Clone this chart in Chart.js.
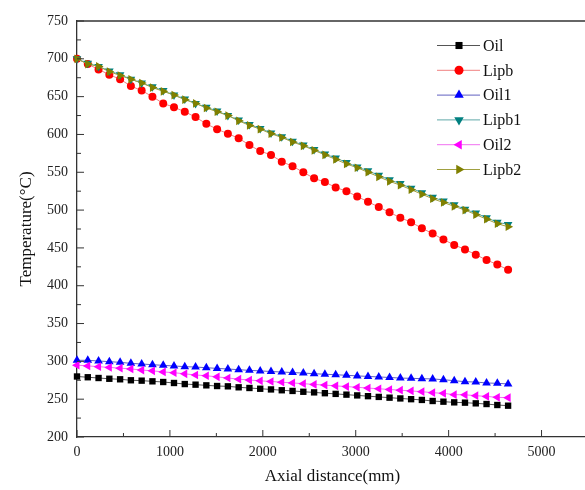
<!DOCTYPE html>
<html>
<head>
<meta charset="utf-8">
<script src="https://cdn.jsdelivr.net/npm/chart.js@4.4.1/dist/chart.umd.min.js"></script>
<style>
html, body { margin: 0; padding: 0; background: #fff; overflow: hidden; }
#wrap { width: 585px; height: 490px; overflow: hidden; }
</style>
</head>
<body>
<div id="wrap"><canvas id="myChart" width="600" height="490"></canvas></div>
<script>
// axial positions (mm)
var distance = [0, 116, 232, 348, 464, 580, 696, 812, 928, 1044, 1160, 1276, 1392, 1508, 1624, 1740, 1856, 1972, 2088, 2204,
  2320, 2436, 2552, 2668, 2784, 2900, 3016, 3132, 3248, 3364, 3480, 3596, 3712, 3828, 3944, 4060, 4176, 4292, 4408, 4524, 4640];

// temperatures (C)
var oil = [280, 279, 278, 277, 276.3, 275, 274.5, 273.6, 272.7, 271.4, 270, 269.2, 268.3, 267.4, 267, 265.7, 264.8, 263.8, 262.9, 261.8,
  260.9, 259.8, 259, 257.9, 257, 256, 255, 254, 253, 252, 251, 250, 249, 247.6, 246.7, 245.8, 245.4, 244.5, 243.6, 242.3, 241.4];
var lipb = [700, 693, 686, 679, 673, 664, 658, 650, 641, 636, 630, 623, 614, 607, 601, 595, 586, 578, 573, 564,
  558, 550, 542, 537, 530, 525, 518, 511, 504, 497, 490, 484, 476, 469, 461, 454, 448, 441, 434, 428, 421];
var oil1 = [301.4, 301.4, 300.5, 299.6, 298.7, 297.4, 296.5, 295.6, 294.7, 293.9, 293, 292.5, 291.6, 290.7, 289.9, 289, 288.1, 287.4, 286.6, 285.9,
  285.2, 284.5, 283.7, 283, 282.3, 281.6, 280.8, 280.1, 279.4, 278.7, 277.9, 277.6, 277.1, 276.8, 275.7, 274.5, 273.1, 272.7, 271.4, 271, 270.1];
var lipb1 = [700, 694, 690, 684, 679, 673, 668, 663, 658, 652, 647, 641, 636, 631, 625, 619, 613, 608, 602, 597,
  591, 586, 580, 574, 569, 563, 557, 552, 546, 540, 535, 529, 523, 517, 512, 507, 501, 496, 490, 484, 481];
var oil2 = [295, 294, 293, 292, 291, 290, 288.5, 287.5, 286, 285, 283.5, 282, 281, 279.5, 278, 276.5, 275.3, 274.3, 273.4, 272.4,
  271.5, 270.5, 269.5, 268.6, 267.6, 266.7, 265.7, 264.7, 263.8, 262.8, 261.9, 260.9, 259.9, 258.6, 257.7, 256, 255.8, 254.6, 253.7, 252.4, 252];
var lipb2 = [700, 693, 690, 683, 678, 673, 668, 662, 657, 652, 646, 641, 635, 630, 625, 618, 612, 607, 601, 596,
  590, 585, 579, 573, 567, 561, 556, 550, 544, 538, 533, 527, 521, 515, 510, 505, 500, 494, 488, 482, 478];

var seriesNames = ['Oil', 'Lipb', 'Oil1', 'Lipb1', 'Oil2', 'Lipb2'];
var seriesValues = [oil, lipb, oil1, lipb1, oil2, lipb2];
var colors = ['#000000', '#ff0000', '#0000ff', '#008080', '#ff00ff', '#808000'];
var lineColors = ['#555555', '#f08080', '#6060c0', '#60a8a8', '#f070f0', '#a0a040'];
var markers = ['rect', 'circle', 'triangle', 'triangle', 'triangle', 'triangle'];
var markerRot = [0, 0, 0, 180, 270, 90];
var markerSize = [4.5, 4, 5, 5, 5, 5];

var axisColor = '#333333';
var serif = '"Liberation Serif", "Times New Roman", serif';

function toPoints(vals){
  var pts = [];
  for (var i = 0; i < vals.length; i++){
    pts.push({x: distance[i], y: vals[i]});
  }
  return pts;
}

var datasets = [];
for (var s = 0; s < seriesNames.length; s++){
  datasets.push({
    label: seriesNames[s],
    data: toPoints(seriesValues[s]),
    borderColor: lineColors[s],
    backgroundColor: colors[s],
    borderWidth: 1,
    pointStyle: markers[s],
    rotation: markerRot[s],
    pointRadius: markerSize[s],
    pointBorderWidth: 0,
    pointBackgroundColor: colors[s],
    pointBorderColor: colors[s],
    lineTension: 0,
    fill: false,
    clip: false,
    order: seriesNames.length - s
  });
}

// top frame, inward ticks and the inset legend
var frameAndLegend = {
  id: 'frameAndLegend',
  afterDraw: function(chart){
    var c = chart.ctx, a = chart.chartArea;
    var xs = chart.scales.x, ys = chart.scales.y;
    c.save();
    c.strokeStyle = axisColor;
    c.lineWidth = 1.3;
    c.beginPath();
    c.moveTo(a.left, a.top);
    c.lineTo(a.right, a.top);
    c.stroke();

    c.lineWidth = 1;
    c.beginPath();
    for (var v = 200; v <= 750; v += 25){
      var py = ys.getPixelForValue(v);
      var len = (v % 50 == 0) ? 7 : 4;
      c.moveTo(a.left, py);
      c.lineTo(a.left + len, py);
    }
    for (var w = 0; w <= 5500; w += 500){
      var px = xs.getPixelForValue(w);
      var len2 = (w % 1000 == 0) ? 7 : 4;
      c.moveTo(px, a.bottom);
      c.lineTo(px, a.bottom - len2);
    }
    c.stroke();

    // legend
    var lx0 = 437, lx1 = 480, mx = 459, ty = 45.5, gap = 24.8;
    c.font = '16px ' + serif;
    c.textBaseline = 'middle';
    c.textAlign = 'left';
    for (var s = 0; s < seriesNames.length; s++){
      var yy = ty + s * gap;
      c.strokeStyle = lineColors[s];
      c.lineWidth = 1;
      c.beginPath();
      c.moveTo(lx0, yy);
      c.lineTo(lx1, yy);
      c.stroke();
      c.fillStyle = colors[s];
      c.strokeStyle = colors[s];
      if (Chart.helpers && Chart.helpers.drawPoint){
        Chart.helpers.drawPoint(c, {pointStyle: markers[s], rotation: markerRot[s], radius: markerSize[s] + 0.5, borderWidth: 0}, mx, yy);
      }
      c.fillStyle = '#111111';
      c.fillText(seriesNames[s], 483, yy + 1);
    }
    c.restore();
  }
};

var ctx = document.getElementById('myChart').getContext('2d');
var myChart = new Chart(ctx, {
  type: 'line',
  data: { datasets: datasets },
  options: {
    responsive: false,
    animation: false,
    layout: { padding: { top: 21, right: 12, left: 0, bottom: 0 } },
    plugins: {
      legend: { display: false },
      tooltip: { enabled: false }
    },
    scales: {
      x: {
        type: 'linear',
        min: 0,
        max: 5500,
        grid: { display: false, drawTicks: false },
        border: { display: true, color: axisColor, width: 1.3 },
        ticks: {
          stepSize: 500,
          padding: 7,
          color: '#222222',
          font: { family: serif, size: 14 },
          maxRotation: 0,
          autoSkip: false,
          callback: function(v){ return (v % 1000 == 0 && v <= 5000) ? v : ''; }
        },
        title: {
          display: true,
          text: 'Axial distance(mm)',
          color: '#111111',
          font: { family: serif, size: 17 },
          padding: { top: 0, bottom: 3 }
        },
        afterFit: function(scale){ scale.height = 53; }
      },
      y: {
        min: 200,
        max: 750,
        grid: { display: false, drawTicks: false },
        border: { display: true, color: axisColor, width: 1.3 },
        ticks: {
          stepSize: 50,
          padding: 9,
          color: '#222222',
          font: { family: serif, size: 14 }
        },
        title: {
          display: true,
          text: 'Temperature(°C)',
          color: '#111111',
          font: { family: serif, size: 17 },
          padding: { top: 16, bottom: 0 }
        },
        afterFit: function(scale){ scale.width = 77; }
      }
    }
  },
  plugins: [frameAndLegend]
});
</script>
</body>
</html>
